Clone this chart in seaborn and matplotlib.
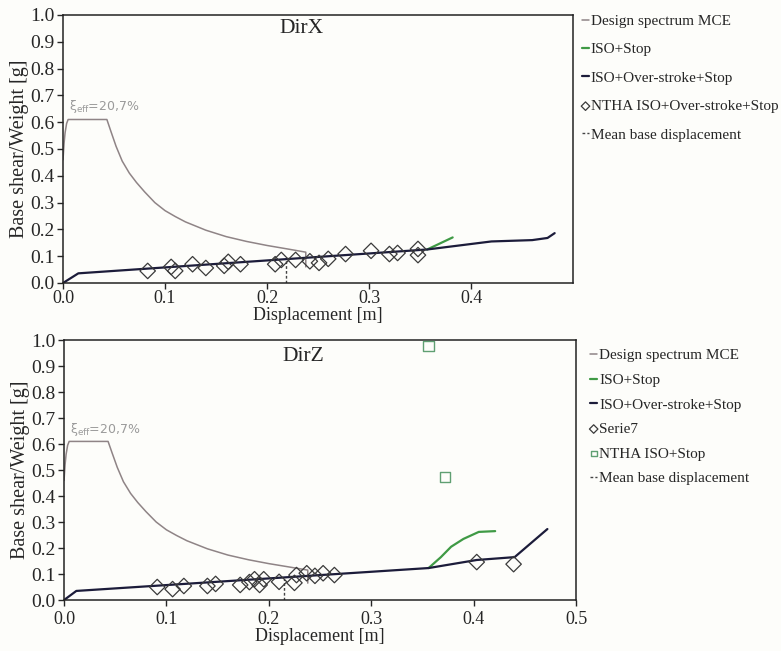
import numpy as np
import pandas as pd
import matplotlib
matplotlib.use('Agg')
import matplotlib.pyplot as plt
import seaborn as sns

# ---- DirX data ----
spec_x_X = [0.0, 0.001, 0.002, 0.0035, 0.005, 0.043, 0.047, 0.052, 0.058, 0.065, 0.072,
            0.08, 0.09, 0.10, 0.11, 0.12, 0.14, 0.16, 0.18, 0.20, 0.22, 0.238, 0.238]
spec_y_X = [0.46, 0.52, 0.56, 0.595, 0.61, 0.61, 0.565, 0.51, 0.455, 0.41, 0.375,
            0.34, 0.30, 0.27, 0.248, 0.228, 0.197, 0.173, 0.155, 0.140, 0.127, 0.115, 0.06]
ovs_x_X = [0.0, 0.015, 0.357, 0.42, 0.46, 0.475, 0.482]
ovs_y_X = [0.0, 0.036, 0.125, 0.155, 0.16, 0.168, 0.186]
iso_x_X = [0.357, 0.382]
iso_y_X = [0.125, 0.170]
ntha_x_X = [0.083, 0.106, 0.110, 0.127, 0.140, 0.158, 0.162, 0.174, 0.208, 0.214,
            0.228, 0.242, 0.251, 0.260, 0.277, 0.302, 0.320, 0.328, 0.348, 0.348]
ntha_y_X = [0.045, 0.060, 0.045, 0.070, 0.056, 0.064, 0.079, 0.070, 0.070, 0.086,
            0.086, 0.081, 0.075, 0.090, 0.108, 0.120, 0.108, 0.112, 0.127, 0.104]
mean_x_X = [0.219, 0.219]
mean_y_X = [0.0, 0.087]

# ---- DirZ data ----
spec_x_Z = [0.0, 0.001, 0.002, 0.0035, 0.005, 0.043, 0.047, 0.052, 0.058, 0.065, 0.072,
            0.08, 0.09, 0.10, 0.11, 0.12, 0.14, 0.16, 0.18, 0.20, 0.22, 0.238, 0.238]
spec_y_Z = [0.46, 0.52, 0.56, 0.595, 0.61, 0.61, 0.565, 0.51, 0.455, 0.41, 0.375,
            0.34, 0.30, 0.27, 0.248, 0.228, 0.197, 0.173, 0.155, 0.140, 0.127, 0.115, 0.065]
ovs_x_Z = [0.0, 0.012, 0.356, 0.403, 0.44, 0.472]
ovs_y_Z = [0.0, 0.035, 0.123, 0.154, 0.165, 0.273]
iso_x_Z = [0.356, 0.368, 0.378, 0.390, 0.405, 0.421]
iso_y_Z = [0.123, 0.165, 0.205, 0.235, 0.262, 0.265]
serie7_x = [0.091, 0.106, 0.117, 0.140, 0.148, 0.172, 0.181, 0.186, 0.191, 0.195,
            0.210, 0.225, 0.227, 0.237, 0.245, 0.253, 0.264, 0.403, 0.439]
serie7_y = [0.050, 0.042, 0.054, 0.054, 0.062, 0.058, 0.069, 0.080, 0.058, 0.080,
            0.070, 0.066, 0.096, 0.103, 0.093, 0.103, 0.096, 0.146, 0.138]
sq_x_Z = [0.356, 0.372]
sq_y_Z = [0.977, 0.473]
mean_x_Z = [0.215, 0.215]
mean_y_Z = [0.0, 0.08]

c_spec = '#8f8486'
c_ovs = '#1c1c3a'
c_iso = '#3f9a45'
c_dia = '#3a3a3a'
c_sq = '#5f9f72'

sns.set_style('ticks')
plt.rcParams['font.family'] = ['Liberation Serif', 'DejaVu Serif']

fig = plt.figure(figsize=(7.81, 6.51), dpi=100)
fig.patch.set_facecolor('#fdfdfa')
ax0 = fig.add_axes([0.0807, 0.5653, 0.653, 0.4117])
ax1 = fig.add_axes([0.082, 0.0783, 0.6556, 0.3994])


def draw(ax, sx, sy, ox, oy, ix, iy, dx, dy, dia_label, title, ty):
    ax.set_facecolor('#fdfdfa')
    sns.lineplot(x=sx, y=sy, ax=ax, sort=False, estimator=None, color=c_spec,
                 lw=1.1, label='Design spectrum MCE')
    sns.lineplot(x=ix, y=iy, ax=ax, sort=False, estimator=None, color=c_iso,
                 lw=1.6, label='ISO+Stop')
    sns.lineplot(x=ox, y=oy, ax=ax, sort=False, estimator=None, color=c_ovs,
                 lw=1.6, label='ISO+Over-stroke+Stop')
    sns.scatterplot(x=dx, y=dy, ax=ax, marker='D', s=62, facecolor='none',
                    edgecolor=c_dia, linewidth=0.9, label=dia_label, zorder=4)
    ax.text(0.467, ty, title, transform=ax.transAxes, ha='center', va='center',
            fontsize=15.5)
    ax.text(0.006, 0.625, r'$\mathrm{\xi_{eff}}$=20,7%', color='#9a9a9a', fontsize=9,
            family=['DejaVu Sans'], ha='left', va='bottom')
    ax.set_xlim(0, 0.5)
    ax.set_ylim(0, 1.0)
    ax.set_yticks(np.arange(0, 1.01, 0.1))
    ax.set_yticklabels([f'{v:.1f}' for v in np.arange(0, 1.01, 0.1)])
    ax.set_ylabel('Base shear/Weight [g]', fontsize=14.5, labelpad=1)
    ax.tick_params(axis='y', labelsize=14, length=4, width=1, direction='out', pad=2)
    ax.tick_params(axis='x', labelsize=13, length=4, width=1, direction='out')
    for s in ax.spines.values():
        s.set_visible(True)
        s.set_linewidth(1.1)
        s.set_color('#222222')


draw(ax0, spec_x_X, spec_y_X, ovs_x_X, ovs_y_X, iso_x_X, iso_y_X,
     ntha_x_X, ntha_y_X, 'NTHA ISO+Over-stroke+Stop', 'DirX', 0.95)
sns.lineplot(x=mean_x_X, y=mean_y_X, ax=ax0, sort=False, estimator=None,
             color='#444444', lw=1, linestyle=(0, (2, 1.5)), label='Mean base displacement')
ax0.set_xticks([0, 0.1, 0.2, 0.3, 0.4])
ax0.set_xticklabels(['0.0', '0.1', '0.2', '0.3', '0.4'])
ax0.tick_params(axis='x', pad=1)
ax0.set_xlabel('Displacement [m]', fontsize=13, labelpad=0)

draw(ax1, spec_x_Z, spec_y_Z, ovs_x_Z, ovs_y_Z, iso_x_Z, iso_y_Z,
     serie7_x, serie7_y, 'Serie7', 'DirZ', 0.935)
sns.scatterplot(x=sq_x_Z, y=sq_y_Z, ax=ax1, marker='s', s=55, facecolor='none',
                edgecolor=c_sq, linewidth=1, label='NTHA ISO+Stop', zorder=4)
sns.lineplot(x=mean_x_Z, y=mean_y_Z, ax=ax1, sort=False, estimator=None,
             color='#444444', lw=1, linestyle=(0, (2, 1.5)), label='Mean base displacement')
ax1.set_xticks([0, 0.1, 0.2, 0.3, 0.4, 0.5])
ax1.set_xticklabels(['0.0', '0.1', '0.2', '0.3', '0.4', '0.5'])
ax1.tick_params(axis='x', pad=4)
ax1.set_xlabel('Displacement [m]', fontsize=13, labelpad=0)

ax0.legend(loc='upper left', bbox_to_anchor=(1.005, 1.025), frameon=False, fontsize=11,
           handlelength=0.5, handletextpad=0.1, labelspacing=0.96, borderaxespad=0,
           markerscale=0.55)
ax1.legend(loc='upper left', bbox_to_anchor=(1.015, 0.99), frameon=False, fontsize=11,
           handlelength=0.5, handletextpad=0.1, labelspacing=0.71, borderaxespad=0,
           markerscale=0.55)

fig.savefig('out.png', dpi=100, facecolor=fig.get_facecolor())
